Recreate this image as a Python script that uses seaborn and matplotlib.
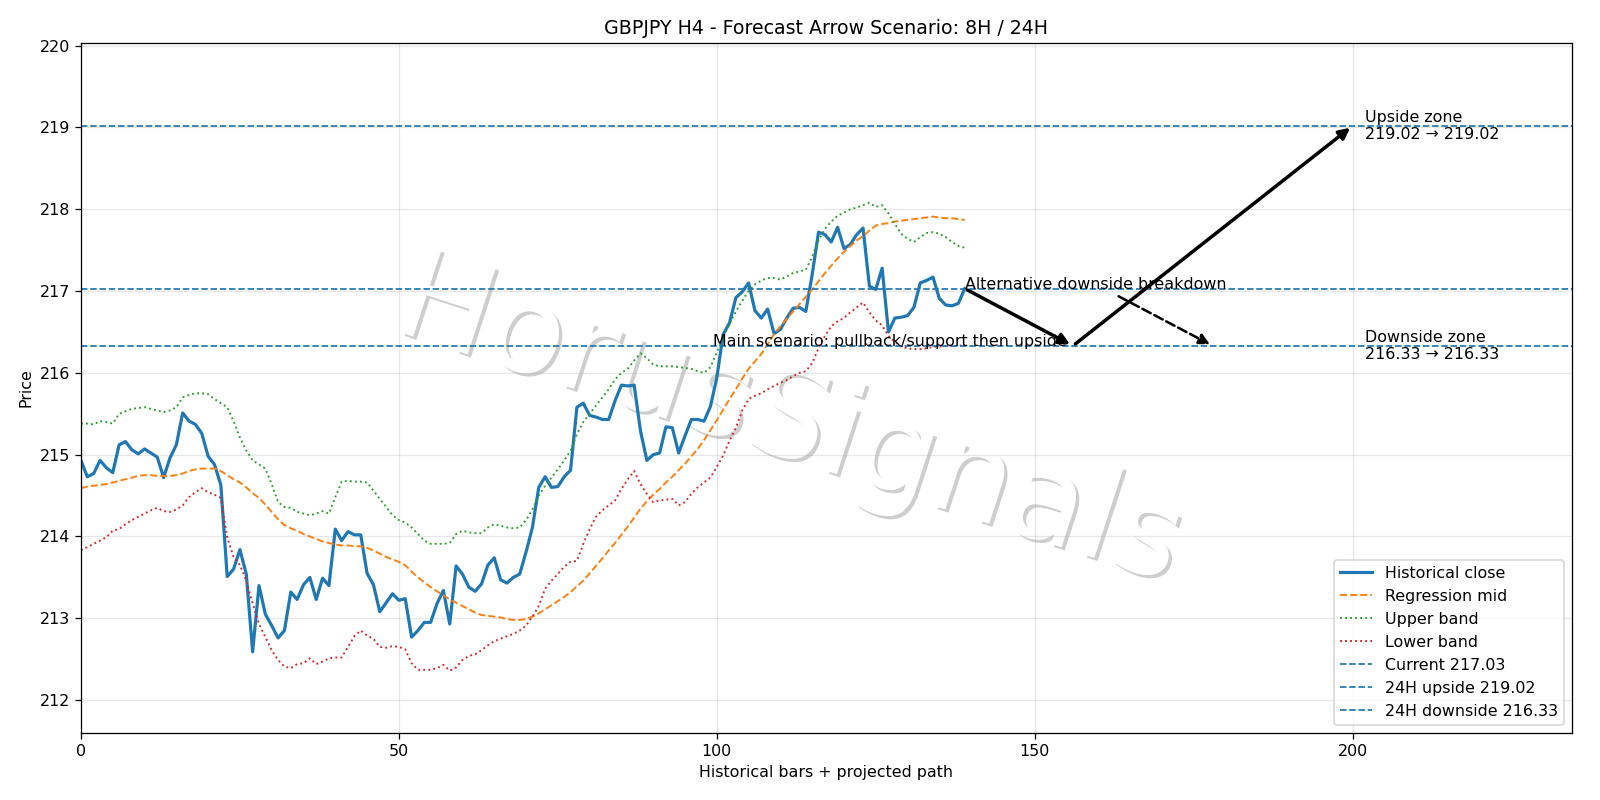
import numpy as np
import pandas as pd
import matplotlib
matplotlib.use("Agg")
import matplotlib.pyplot as plt
import matplotlib.patheffects as pe
import seaborn as sns

# === Data (140 H4 bars) ===
close = [214.93, 214.73, 214.77, 214.93, 214.84, 214.78, 215.12, 215.16, 215.06, 215.01,
         215.07, 215.02, 214.97, 214.72, 214.96, 215.12, 215.51, 215.41, 215.37, 215.26,
         214.98, 214.88, 214.63, 213.51, 213.60, 213.84, 213.54, 212.59, 213.40, 213.05,
         212.91, 212.76, 212.85, 213.32, 213.23, 213.41, 213.50, 213.23, 213.49, 213.40,
         214.09, 213.95, 214.06, 214.02, 214.02, 213.55, 213.41, 213.08, 213.19, 213.30,
         213.22, 213.24, 212.77, 212.85, 212.95, 212.95, 213.18, 213.34, 212.93, 213.64,
         213.54, 213.38, 213.33, 213.42, 213.65, 213.74, 213.47, 213.43, 213.50, 213.54,
         213.81, 214.11, 214.60, 214.73, 214.60, 214.61, 214.73, 214.81, 215.58, 215.63,
         215.48, 215.46, 215.43, 215.43, 215.66, 215.85, 215.84, 215.85, 215.29, 214.93,
         215.00, 215.02, 215.34, 215.33, 215.02, 215.23, 215.43, 215.43, 215.41, 215.59,
         215.94, 216.47, 216.61, 216.92, 216.99, 217.10, 216.76, 216.67, 216.78, 216.48,
         216.53, 216.67, 216.79, 216.80, 216.75, 217.20, 217.72, 217.69, 217.60, 217.78,
         217.52, 217.57, 217.69, 217.77, 217.06, 217.02, 217.28, 216.50, 216.67, 216.68,
         216.70, 216.80, 217.10, 217.13, 217.17, 216.91, 216.83, 216.82, 216.85, 217.03]

mid = [214.59, 214.61, 214.62, 214.63, 214.64, 214.66, 214.68, 214.70, 214.72, 214.74,
       214.75, 214.75, 214.74, 214.74, 214.74, 214.75, 214.77, 214.80, 214.82, 214.83,
       214.83, 214.83, 214.80, 214.75, 214.70, 214.66, 214.60, 214.53, 214.47, 214.39,
       214.30, 214.21, 214.14, 214.10, 214.07, 214.03, 214.00, 213.97, 213.94, 213.92,
       213.90, 213.89, 213.89, 213.88, 213.88, 213.86, 213.83, 213.79, 213.75, 213.72,
       213.69, 213.65, 213.57, 213.50, 213.44, 213.38, 213.33, 213.28, 213.23, 213.19,
       213.15, 213.11, 213.07, 213.04, 213.03, 213.02, 213.01, 212.99, 212.98, 212.98,
       212.99, 213.02, 213.06, 213.11, 213.16, 213.21, 213.26, 213.32, 213.39, 213.46,
       213.55, 213.64, 213.73, 213.83, 213.92, 214.02, 214.12, 214.23, 214.34, 214.43,
       214.51, 214.58, 214.66, 214.73, 214.81, 214.89, 214.98, 215.07, 215.18, 215.30,
       215.42, 215.55, 215.68, 215.80, 215.93, 216.05, 216.14, 216.23, 216.35, 216.47,
       216.57, 216.66, 216.75, 216.84, 216.93, 217.02, 217.12, 217.22, 217.31, 217.40,
       217.48, 217.55, 217.62, 217.67, 217.74, 217.80, 217.82, 217.83, 217.85, 217.86,
       217.87, 217.88, 217.89, 217.90, 217.91, 217.90, 217.89, 217.89, 217.88, 217.87]

upper = [215.38, 215.38, 215.37, 215.41, 215.40, 215.38, 215.50, 215.53, 215.56, 215.57,
         215.58, 215.56, 215.54, 215.52, 215.54, 215.58, 215.70, 215.73, 215.75, 215.75,
         215.74, 215.68, 215.63, 215.58, 215.41, 215.21, 215.05, 214.93, 214.88, 214.83,
         214.64, 214.42, 214.36, 214.35, 214.30, 214.28, 214.26, 214.28, 214.31, 214.28,
         214.48, 214.67, 214.68, 214.67, 214.67, 214.66, 214.56, 214.46, 214.36, 214.26,
         214.20, 214.17, 214.11, 214.03, 213.95, 213.91, 213.91, 213.91, 213.92, 214.03,
         214.07, 214.05, 214.04, 214.04, 214.11, 214.15, 214.13, 214.11, 214.10, 214.11,
         214.20, 214.33, 214.50, 214.62, 214.72, 214.82, 214.93, 215.05, 215.25, 215.40,
         215.50, 215.60, 215.70, 215.80, 215.92, 216.00, 216.05, 216.15, 216.24, 216.18,
         216.10, 216.08, 216.08, 216.08, 216.07, 216.06, 216.05, 216.02, 216.00, 216.07,
         216.25, 216.43, 216.60, 216.75, 216.88, 217.00, 217.08, 217.13, 217.16, 217.16,
         217.14, 217.18, 217.22, 217.24, 217.26, 217.42, 217.62, 217.76, 217.85, 217.92,
         217.96, 218.00, 218.02, 218.05, 218.08, 218.03, 218.05, 217.95, 217.82, 217.70,
         217.64, 217.60, 217.66, 217.71, 217.72, 217.70, 217.66, 217.60, 217.55, 217.53]

lower = [213.83, 213.87, 213.91, 213.95, 213.99, 214.07, 214.09, 214.15, 214.20, 214.24,
         214.28, 214.32, 214.35, 214.31, 214.30, 214.33, 214.38, 214.48, 214.54, 214.59,
         214.54, 214.51, 214.47, 213.99, 213.75, 213.65, 213.46, 213.18, 212.93, 212.77,
         212.61, 212.49, 212.41, 212.39, 212.44, 212.45, 212.51, 212.44, 212.47, 212.51,
         212.52, 212.52, 212.65, 212.78, 212.85, 212.79, 212.75, 212.65, 212.64, 212.66,
         212.65, 212.62, 212.45, 212.37, 212.37, 212.37, 212.39, 212.43, 212.36, 212.40,
         212.49, 212.54, 212.56, 212.61, 212.67, 212.72, 212.75, 212.78, 212.81, 212.85,
         212.91, 213.02, 213.15, 213.36, 213.46, 213.54, 213.63, 213.69, 213.70, 213.91,
         214.09, 214.24, 214.32, 214.38, 214.44, 214.58, 214.70, 214.80, 214.64, 214.52,
         214.42, 214.44, 214.45, 214.46, 214.38, 214.42, 214.52, 214.60, 214.66, 214.72,
         214.85, 214.99, 215.17, 215.33, 215.54, 215.68, 215.72, 215.75, 215.80, 215.84,
         215.88, 215.91, 215.96, 216.00, 216.02, 216.12, 216.30, 216.45, 216.57, 216.63,
         216.67, 216.74, 216.80, 216.86, 216.74, 216.64, 216.58, 216.45, 216.38, 216.32,
         216.30, 216.29, 216.29, 216.30, 216.32, 216.32, 216.33, 216.33, 216.33, 216.34]

current = 217.03
upside = 219.02
downside = 216.33

# scenario path (bar index, price)
main_path_x = [139, 156, 200]
main_path_y = [current, downside, upside]
alt_target_x = 178

df = pd.DataFrame({"bar": np.arange(len(close)), "close": close, "mid": mid,
                   "upper": upper, "lower": lower})

fig, ax = plt.subplots(figsize=(14, 7), dpi=1600 / 14)

sns.lineplot(data=df, x="bar", y="close", ax=ax, color="C0", linewidth=2, label="Historical close")
sns.lineplot(data=df, x="bar", y="mid", ax=ax, color="C1", linewidth=1.2, linestyle="--", label="Regression mid")
sns.lineplot(data=df, x="bar", y="upper", ax=ax, color="C2", linewidth=1.2, linestyle=":", label="Upper band")
sns.lineplot(data=df, x="bar", y="lower", ax=ax, color="C3", linewidth=1.2, linestyle=":", label="Lower band")

ax.axhline(current, color="C0", linestyle="--", linewidth=1.1, label=f"Current {current:.2f}")
ax.axhline(upside, color="C0", linestyle="--", linewidth=1.1, label=f"24H upside {upside:.2f}")
ax.axhline(downside, color="C0", linestyle="--", linewidth=1.1, label=f"24H downside {downside:.2f}")

# main scenario arrows
arrow_kw = dict(arrowstyle="-|>", color="black", lw=2.2, mutation_scale=14)
ax.annotate("", xy=(main_path_x[1], main_path_y[1]), xytext=(main_path_x[0], main_path_y[0]),
            arrowprops=arrow_kw)
ax.annotate("", xy=(main_path_x[2], main_path_y[2]), xytext=(main_path_x[1], main_path_y[1]),
            arrowprops=arrow_kw)
ax.text(main_path_x[1] - 1, downside, "Main scenario: pullback/support then upside",
        ha="right", va="baseline", fontsize=10)

# alternative scenario
ax.annotate("Alternative downside breakdown", xy=(alt_target_x, downside),
            xytext=(main_path_x[0], current), fontsize=10,
            arrowprops=dict(arrowstyle="-|>", color="black", lw=1.6, linestyle="--",
                            mutation_scale=14))

ax.text(202, upside, f"Upside zone\n{upside:.2f} \u2192 {upside:.2f}", va="center", fontsize=10)
ax.text(202, downside, f"Downside zone\n{downside:.2f} \u2192 {downside:.2f}", va="center", fontsize=10)

# watermark
ax.text(0.475, 0.45, "HorusSignals", transform=ax.transAxes, fontsize=79, rotation=-18,
        ha="center", va="center", color="white", zorder=1,
        path_effects=[pe.withSimplePatchShadow(offset=(2, -2), shadow_rgbFace="#808080", alpha=0.38)])

ax.set_xlim(0, 234.5)
ax.set_ylim(211.6, 220.03)
ax.set_title("GBPJPY H4 - Forecast Arrow Scenario: 8H / 24H")
ax.set_xlabel("Historical bars + projected path")
ax.set_ylabel("Price")
ax.grid(True, alpha=0.3)
ax.legend(loc="lower right")

fig.subplots_adjust(left=0.0506, right=0.9825, top=0.946, bottom=0.084)
fig.savefig("out.png", dpi=1600 / 14)
